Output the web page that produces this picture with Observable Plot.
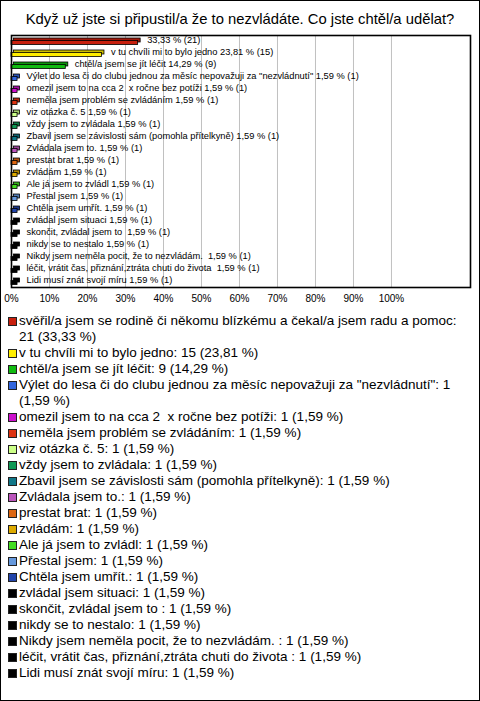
<!DOCTYPE html>
<html>
<head>
<meta charset="utf-8">
<script src="https://cdn.jsdelivr.net/npm/d3@7"></script>
<script src="https://cdn.jsdelivr.net/npm/@observablehq/plot@0.6"></script>
<style>
  html, body { margin: 0; padding: 0; background: #fff; }
  body { position: relative; width: 480px; height: 701px; overflow: hidden; font-family: "Liberation Sans", Arial, sans-serif; }
  #border { position: absolute; left: 0; top: 0; width: 480px; height: 701px; box-sizing: border-box; border: 1px solid #000; pointer-events: none; }
  #title { position: absolute; left: 0; top: 9px; width: 480px; text-align: center; font-size: 14.8px; line-height: 20px; color: #000; white-space: nowrap; }
  #chart { position: absolute; left: 0; top: 33px; }
  #legend { position: absolute; left: 0; top: 313px; width: 480px; }
  .item { position: relative; font-size: 13.5px; line-height: 16px; color: #000; }
  .sw { position: absolute; left: 8px; top: 4px; width: 7px; height: 7px; border: 1px solid #222; }
  .txt { margin-left: 19px; width: 447px; white-space: pre-wrap; }
</style>
</head>
<body>
<div id="title">Když už jste si připustil/a že to nezvládáte. Co jste chtěl/a udělat?</div>
<div id="chart"></div>
<div id="legend"></div>
<div id="border"></div>
<script>
const names = [
  "svěřil/a jsem se rodině či někomu blízkému a čekal/a jsem radu a pomoc",
  "v tu chvíli mi to bylo jedno",
  "chtěl/a jsem se jít léčit",
  "Výlet do lesa či do clubu jednou za měsíc nepovažuji za \"nezvládnutí\"",
  "omezil jsem to na cca 2  x ročne bez potíži",
  "neměla jsem problém se zvládáním",
  "viz otázka č. 5",
  "vždy jsem to zvládala",
  "Zbavil jsem se závislosti sám (pomohla přítelkyně)",
  "Zvládala jsem to.",
  "prestat brat",
  "zvládám",
  "Ale já jsem to zvládl",
  "Přestal jsem",
  "Chtěla jsem umřít.",
  "zvládal jsem situaci",
  "skončit, zvládal jsem to ",
  "nikdy se to nestalo",
  "Nikdy jsem neměla pocit, že to nezvládám. ",
  "léčit, vrátit čas, přiznání,ztráta chuti do života ",
  "Lidi musí znát svojí míru"
];
const counts = [21, 15, 9, 1, 1, 1, 1, 1, 1, 1, 1, 1, 1, 1, 1, 1, 1, 1, 1, 1, 1];
const percents = [33.33, 23.81, 14.29, 1.59, 1.59, 1.59, 1.59, 1.59, 1.59, 1.59, 1.59, 1.59, 1.59, 1.59, 1.59, 1.59, 1.59, 1.59, 1.59, 1.59, 1.59];
const showNameOnBar = [false, true, true, true, true, true, true, true, true, true, true, true, true, true, true, true, true, true, true, true, true];
const colors = [
  "#c8200e", "#ffee00", "#11bb11", "#3366dd", "#cc11cc", "#dd3311", "#ccff88",
  "#119955", "#117788", "#bb55bb", "#dd6611", "#ddaa00", "#44dd22", "#6699dd",
  "#2244aa", "#000000", "#000000", "#000000", "#000000", "#000000", "#000000"
];
const xTicks = [0, 10, 20, 30, 40, 50, 60, 70, 80, 90, 100];

const fmtPct = v => v.toFixed(2).replace(".", ",");
const data = names.map((n, i) => ({
  name: n,
  count: counts[i],
  pct: percents[i],
  label: (showNameOnBar[i] ? n + " " : "") + fmtPct(percents[i]) + " % (" + counts[i] + ")"
}));

const chart = Plot.plot({
  width: 480,
  height: 275,
  marginLeft: 11,
  marginRight: 10,
  marginTop: 2,
  marginBottom: 21,
  style: { fontFamily: "'Liberation Sans', Arial, sans-serif", background: "transparent", overflow: "visible" },
  x: { domain: [0, 120.8], axis: null, label: null },
  y: { domain: names, padding: 0, axis: null, label: null },
  color: { domain: names, range: colors },
  marks: [
    Plot.gridX(xTicks.filter(t => t > 0), { stroke: "#c0c0c0", strokeOpacity: 1, strokeWidth: 1 }),
    Plot.axisX(xTicks, { tickSize: 0, tickPadding: 7, fontSize: 10, label: null, tickFormat: d => d + "%" }),
    // back (top + side) faces
    Plot.barX(data, { x: "pct", y: "name", fill: "name", stroke: "#000", strokeWidth: 0.8, insetTop: 5.5, insetBottom: 2.5, dx: 2.5, dy: -2.5 }),
    Plot.barX(data, { x: "pct", y: "name", fill: "#000", fillOpacity: 0.2, insetTop: 5.5, insetBottom: 2.5, dx: 2.5, dy: -2.5 }),
    // front face
    Plot.barX(data, { x: "pct", y: "name", fill: "name", stroke: "#000", strokeWidth: 0.8, insetTop: 5.5, insetBottom: 2.5 }),
    Plot.text(data, { x: "pct", y: "name", text: "label", textAnchor: "start", dx: 9, dy: -1, fontSize: 9.3, fill: "#000" }),
    Plot.frame({ stroke: "#000", strokeWidth: 1.6 })
  ]
});
document.getElementById("chart").appendChild(chart);

const legend = document.getElementById("legend");
data.forEach((d, i) => {
  const item = document.createElement("div");
  item.className = "item";
  const sw = document.createElement("div");
  sw.className = "sw";
  sw.style.background = colors[i];
  const txt = document.createElement("div");
  txt.className = "txt";
  txt.textContent = d.name + ": " + d.count + " (" + fmtPct(d.pct) + " %)";
  item.appendChild(sw);
  item.appendChild(txt);
  legend.appendChild(item);
});
</script>
</body>
</html>
